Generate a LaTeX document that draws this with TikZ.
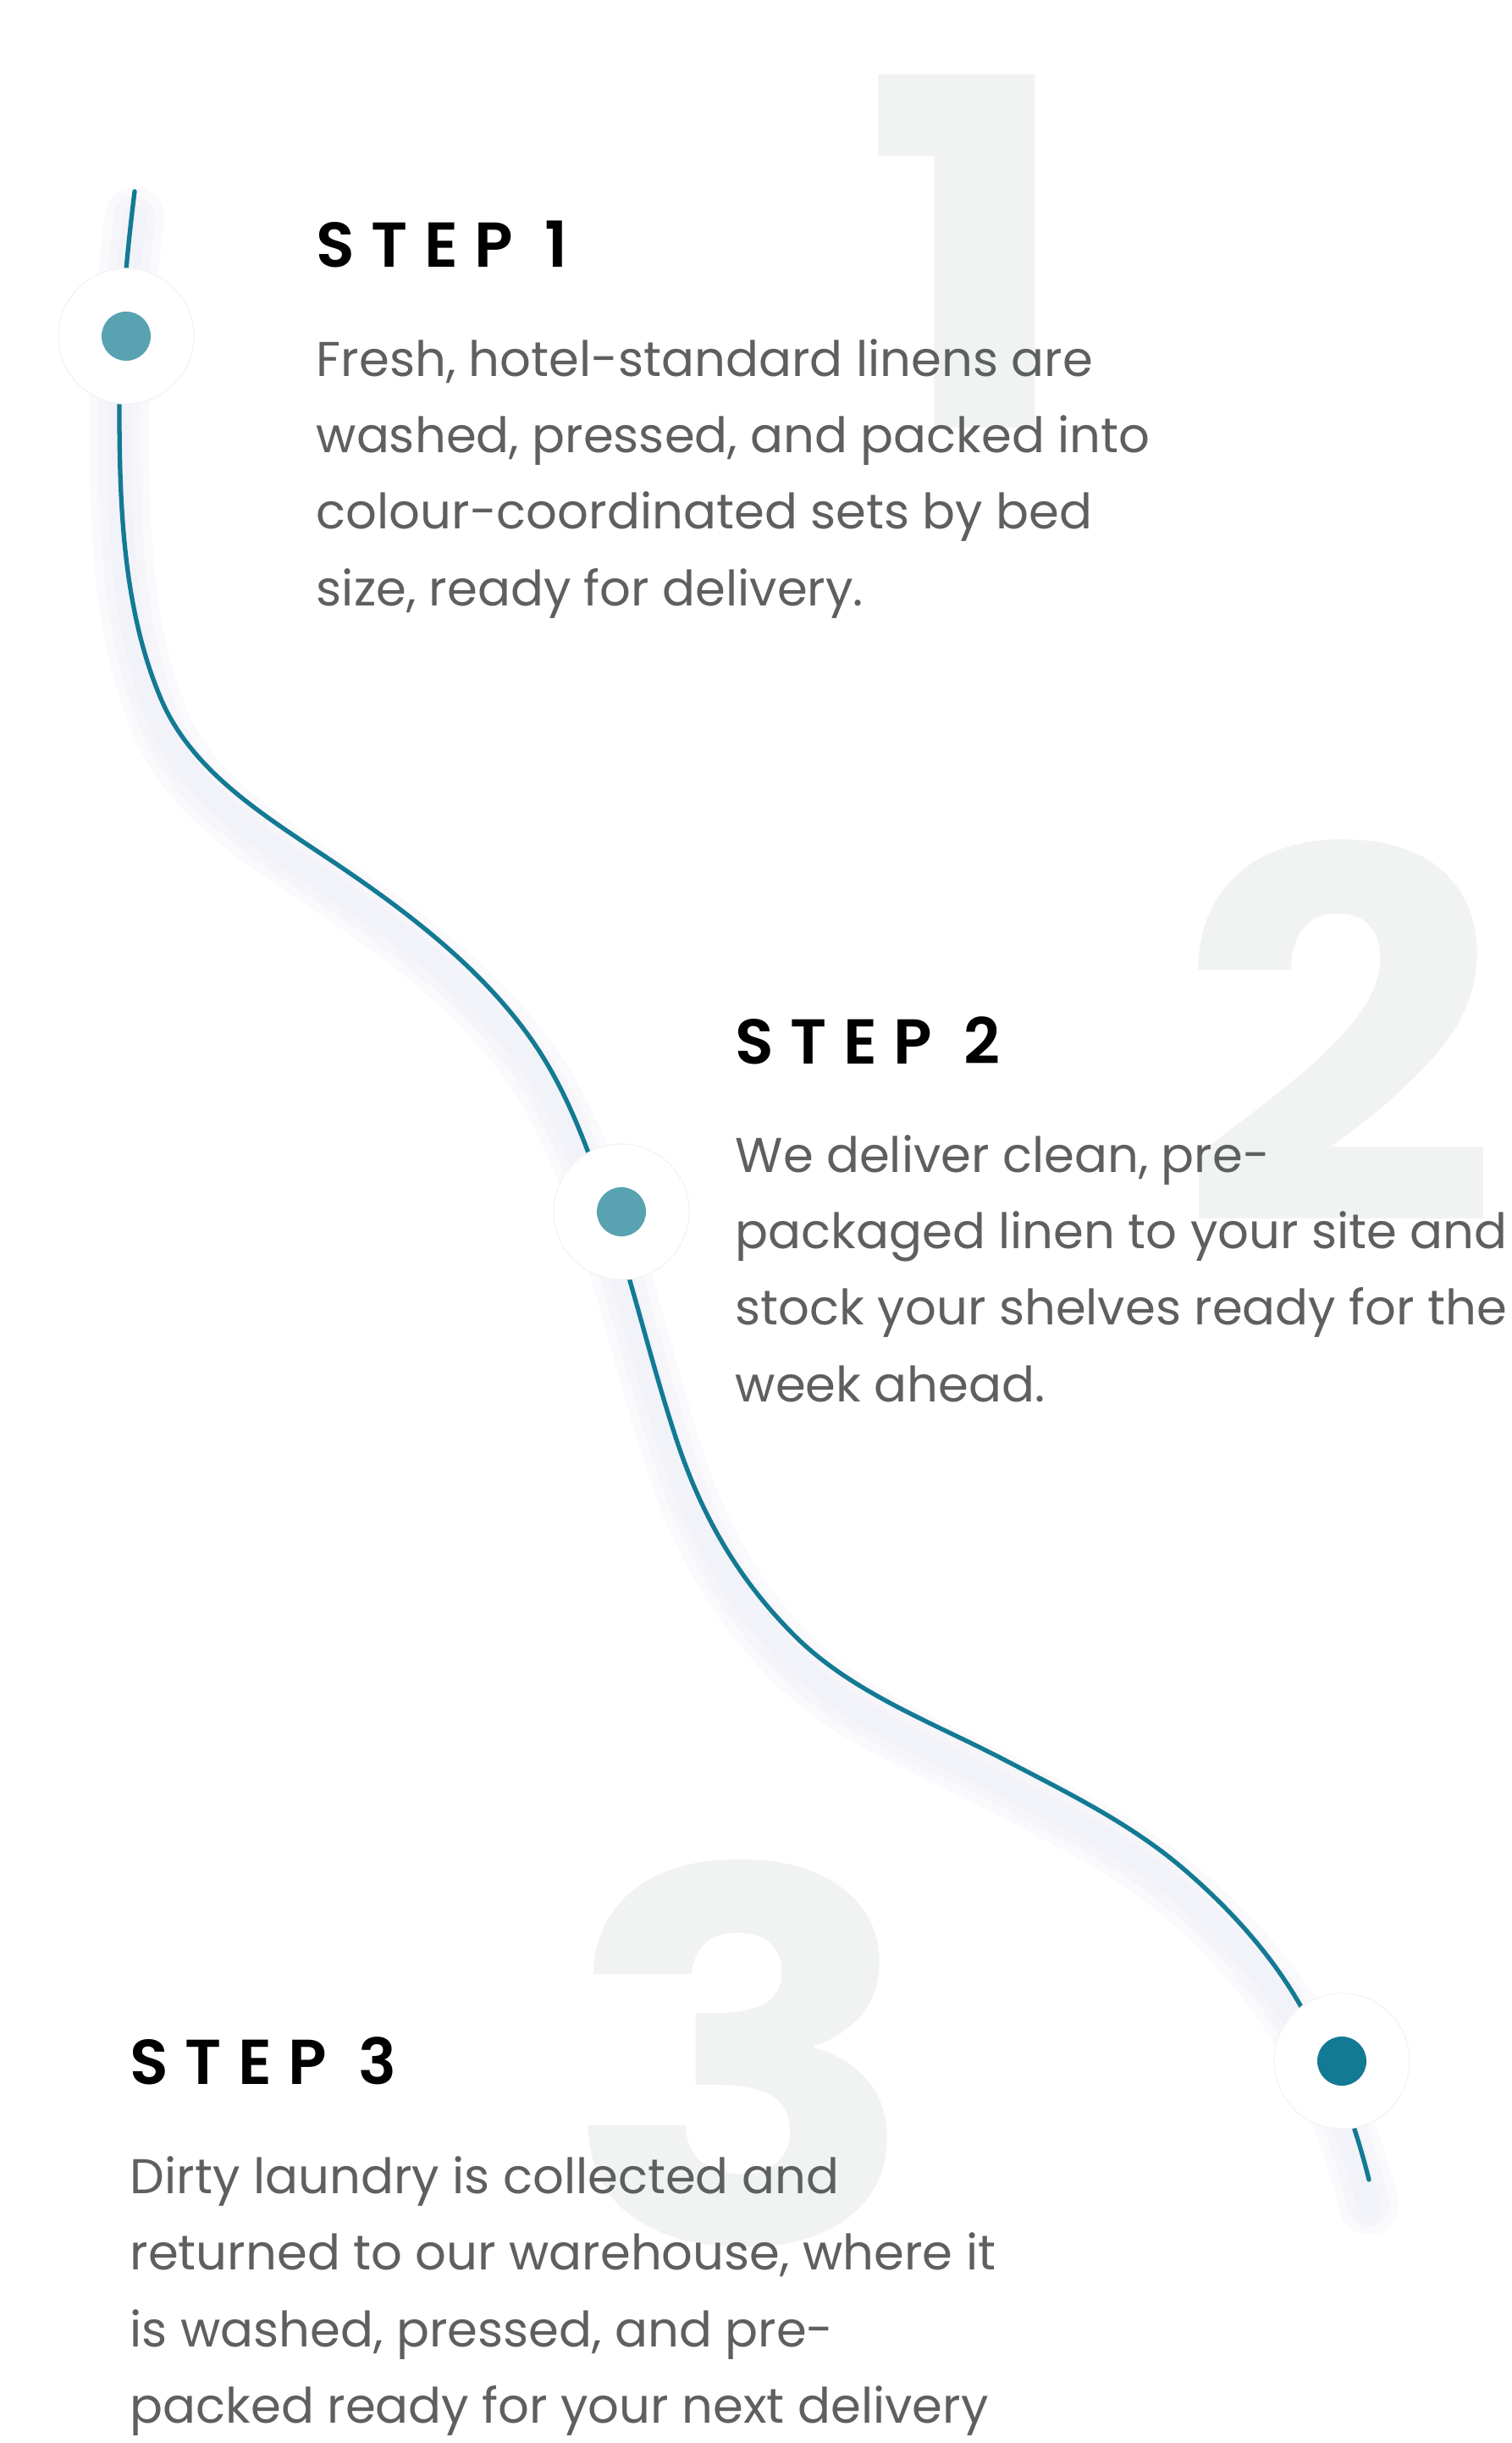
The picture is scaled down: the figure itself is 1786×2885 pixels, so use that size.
\documentclass[tikz,border=0pt]{standalone}
\usepackage{fontspec}
\setmainfont{Poppins}
\newfontfamily\headfont[LetterSpace=26]{Poppins SemiBold}
\newfontfamily\numfont{Poppins Bold}
\usetikzlibrary{positioning}
\definecolor{pathteal}{HTML}{137A93}
\definecolor{dotlight}{HTML}{58A2B2}
\definecolor{bodygray}{HTML}{5E605F}
\definecolor{numgray}{HTML}{F1F3F2}
\definecolor{wavesh}{HTML}{E6E6F3}
\definecolor{ringedge}{HTML}{F4F4F4}
\tikzset{
  halo/.style={circle, fill=white, draw=ringedge, line width=0.4pt, minimum size=1.6cm, inner sep=0pt},
  dot/.style={circle, fill=dotlight, minimum size=0.58cm, inner sep=0pt},
  stephead/.style={anchor=base west, inner sep=0pt, font=\headfont\fontsize{21.3}{26}\selectfont},
  body/.style={anchor=base west, inner sep=0pt, align=left, text=bodygray,
    font=\fontsize{16.4}{25.6}\selectfont},
  bignum/.style={anchor=base, inner sep=0pt, text=numgray, xscale=1.1, transform shape,
    font=\numfont\fontsize{173}{173}\selectfont},
  wire/.style={pathteal, line width=1.5pt, line cap=round},
  shadowA/.style={wavesh, opacity=0.22, line width=20pt, line cap=round, yshift=-0.3cm},
  shadowB/.style={wavesh, opacity=0.22, line width=14pt, line cap=round, yshift=-0.3cm},
  shadowC/.style={wavesh, opacity=0.22, line width=8pt, line cap=round, yshift=-0.3cm}
}

\begin{document}
\begin{tikzpicture}[x=0.01cm, y=-0.01cm]
  \useasboundingbox (0,0) rectangle (1786,2885);
  % big background numbers
  \begin{scope}
    \clip (900,0) rectangle (1400,504);
    \node[bignum] (n1) at (1145,532) {1};
  \end{scope}
  \node[bignum] (n2) at (1582,1445) {2};
  \node[bignum, xscale=1.04] (n3) at (876,2650) {3};

  % the wavy timeline with its soft shadow
  \foreach \s in {shadowA, shadowB, shadowC, wire}
    \draw[\s] (159,226) .. controls +(97:85) and +(270:85) .. (141,480)
      .. controls +(90:115) and +(247:115) .. (190,825)
      .. controls +(67:93) and +(213.8:93) .. (388,1014)
      .. controls +(33.8:107) and +(234.9:107) .. (628,1228)
      .. controls +(54.9:77) and +(252:77) .. (722,1440)
      .. controls +(72:90) and +(251.7:90) .. (799,1700)
      .. controls +(71.7:94) and +(225:94) .. (938,1931)
      .. controls +(45:96) and +(207.5:96) .. (1186,2078)
      .. controls +(27.5:83) and +(220.6:83) .. (1398,2207)
      .. controls +(40.6:71) and +(240.6:71) .. (1537,2370)
      .. controls +(60.6:73) and +(256:73) .. (1617,2574);

  % markers
  \node[halo] (h1) at (149,397) {};
  \node[halo] (h2) at (734,1431) {};
  \node[halo] (h3) at (1585,2434) {};
  \node[dot] (d1) at (h1) {};
  \node[dot] (d2) at (h2) {};
  \node[dot, fill=pathteal] (d3) at (h3) {};

  % step texts (body nodes sit on their last baseline)
  \node[stephead] (s1) at (373,316) {STEP 1};
  \node[body] (t1) at (373,715) {Fresh, hotel-standard linens are\\
    washed, pressed, and packed into\\colour-coordinated sets by bed\\
    size, ready for delivery.};
  \node[stephead] (s2) at (868,1256) {STEP 2};
  \node[body] (t2) at (868,1655) {We deliver clean, pre-\\
    packaged linen to your site and\\stock your shelves ready for the\\
    week ahead.};
  \node[stephead] (s3) at (153,2461) {STEP 3};
  \node[body] (t3) at (153,2861) {Dirty laundry is collected and\\
    returned to our warehouse, where it\\is washed, pressed, and pre-\\
    packed ready for your next delivery};
\end{tikzpicture}
\end{document}
